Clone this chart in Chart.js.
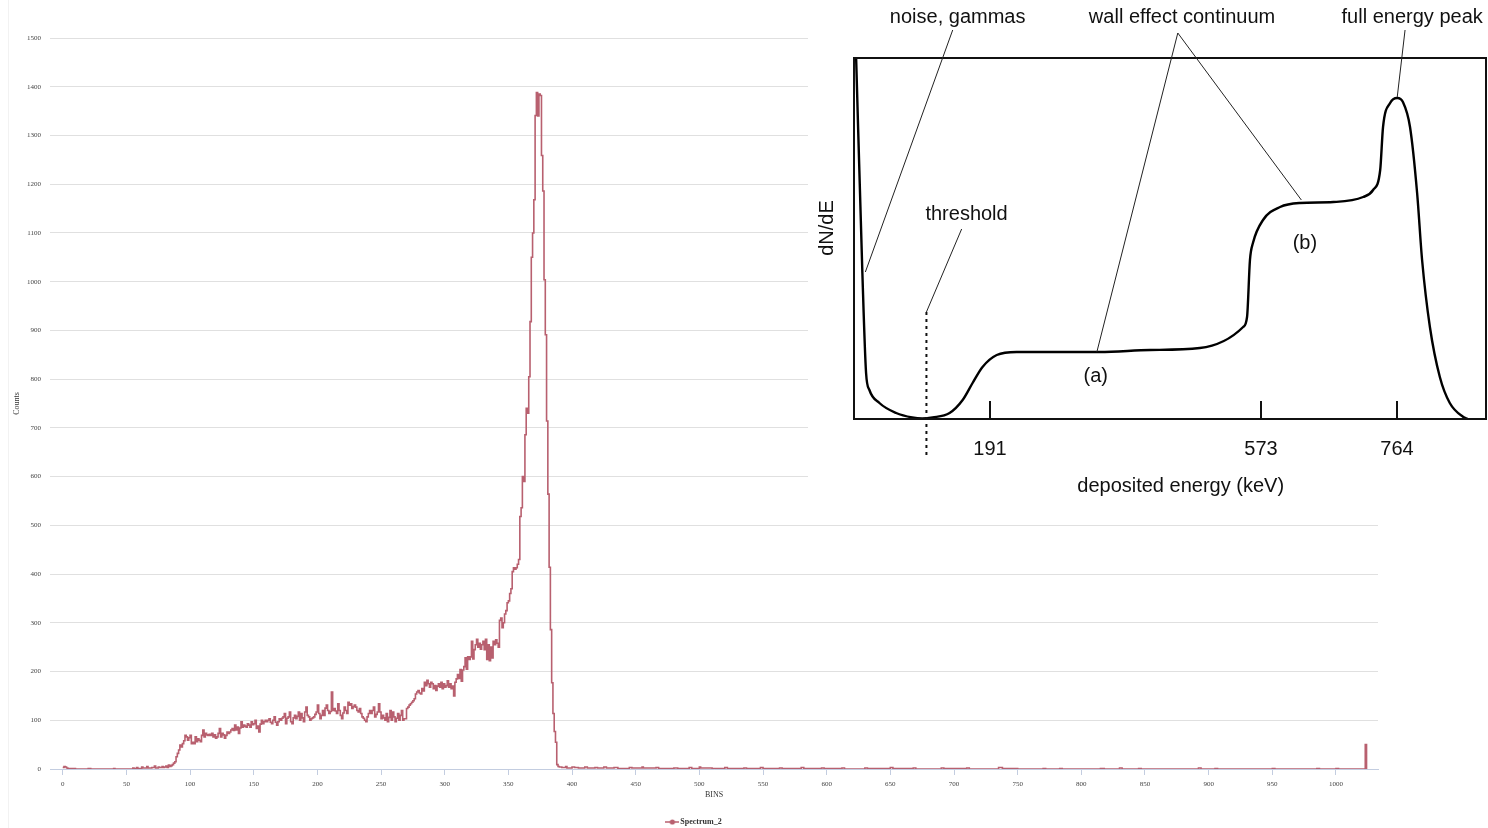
<!DOCTYPE html>
<html>
<head>
<meta charset="utf-8">
<title>Spectrum_2</title>
<script src="https://cdn.jsdelivr.net/npm/chart.js@4.4.1/dist/chart.umd.min.js"></script>
<style>
  body { margin: 0; background: #fff; }
  #wrap { position: relative; width: 1488px; height: 828px; overflow: hidden; }
  #edge { position: absolute; left: 8px; top: 0; width: 1px; height: 828px; background: #f2f2f2; }
  #main { position: absolute; left: 0; top: 0; }
  #inset { position: absolute; left: 808px; top: 0; background: #fff; }
</style>
</head>
<body>
<div id="wrap">
  <div id="edge"></div>
  <canvas id="main" width="1404" height="836"></canvas>
  <canvas id="inset" width="680" height="500"></canvas>
</div>
<script>
// --- Spectrum data (counts per bin) ---
// sparse head: value holds from this bin until the next listed bin
const headBins   = [0, 1, 2, 3, 4, 10, 20, 22, 40, 41, 55, 56, 58, 59, 62, 63, 66, 67, 70, 72, 73, 75, 76, 78, 79];
const headCounts = [3, 5, 4, 2, 1, 0, 1, 0, 1, 0, 2, 1, 3, 1, 4, 2, 5, 2, 3, 6, 2, 4, 3, 5, 3];

// every bin from 80 to 389
const mainStart = 80;
const mainCounts = [
  4, 6, 3, 8, 5, 7, 9, 12, 15, 25,
  32, 39, 49, 45, 52, 58, 69, 66, 59, 64,
  69, 52, 55, 52, 66, 56, 62, 59, 56, 69,
  80, 66, 73, 70, 69, 71, 69, 73, 66, 70,
  63, 66, 73, 83, 66, 73, 70, 63, 69, 76,
  73, 76, 80, 83, 79, 90, 80, 86, 73, 84,
  97, 86, 90, 88, 86, 93, 90, 86, 97, 91,
  93, 100, 83, 88, 76, 92, 100, 93, 97, 100,
  97, 100, 103, 96, 93, 100, 107, 96, 90, 97,
  103, 100, 104, 107, 114, 93, 104, 107, 117, 97,
  93, 105, 110, 103, 108, 117, 100, 114, 105, 97,
  117, 127, 110, 107, 100, 103, 105, 107, 112, 117,
  131, 114, 103, 110, 120, 110, 125, 131, 120, 114,
  118, 158, 120, 124, 119, 114, 134, 120, 110, 103,
  115, 127, 120, 114, 137, 131, 134, 124, 128, 131,
  127, 120, 117, 124, 114, 107, 104, 100, 97, 107,
  114, 120, 114, 120, 127, 107, 112, 117, 134, 117,
  103, 110, 105, 100, 114, 97, 106, 120, 100, 117,
  107, 97, 104, 114, 100, 110, 120, 100, 103, 103,
  124, 127, 131, 134, 137, 140, 144, 154, 158, 161,
  156, 154, 165, 160, 178, 171, 182, 175, 168, 178,
  175, 165, 171, 161, 170, 175, 168, 178, 165, 175,
  168, 171, 181, 168, 175, 165, 170, 150, 178, 185,
  194, 186, 204, 180, 203, 210, 228, 205, 230, 225,
  230, 262, 226, 245, 255, 266, 250, 258, 246, 255,
  262, 245, 266, 225, 255, 222, 250, 228, 262, 255,
  265, 258, 250, 305, 310, 290, 300, 318, 325, 341,
  345, 360, 370, 405, 413, 410, 413, 420, 430, 518,
  536, 600, 590, 686, 740, 730, 805, 918, 1050, 1100,
  1168, 1341, 1388, 1340, 1385, 1382, 1259, 1186, 1004, 891,
  714, 564, 414, 286, 177, 114, 77, 55, 9, 5
];

// sparse tail
const tailBins = [390, 392, 395, 396, 400, 402, 405, 410, 412, 418, 420, 425, 427, 433, 436, 445, 447, 455, 456, 466, 468,
  480, 483, 492, 494, 500, 501, 510, 520, 522, 535, 537, 548, 550, 563, 565, 580, 582, 596, 598, 612, 614, 630, 632,
  650, 652, 668, 670, 690, 692, 710, 712, 735, 738, 750, 770, 772, 783, 785, 815, 818, 830, 832, 845, 847, 892, 894,
  905, 907, 950, 952, 985, 987, 1000, 1002, 1023, 1024];
const tailCounts = [4, 3, 5, 2, 4, 3, 2, 4, 2, 3, 2, 4, 2, 3, 1, 3, 2, 4, 2, 3, 1,
  2, 1, 3, 1, 4, 2, 1, 3, 1, 2, 1, 3, 1, 2, 1, 3, 1, 2, 1, 2, 0, 2, 1,
  3, 1, 2, 0, 2, 1, 2, 0, 3, 1, 0, 1, 0, 1, 0, 1, 0, 2, 0, 1, 0, 2, 0,
  1, 0, 1, 0, 1, 0, 1, 0, 50, 0];

const xTickValues = [0, 50, 100, 150, 200, 250, 300, 350, 400, 450, 500, 550, 600, 650, 700, 750, 800, 850, 900, 950, 1000];

// --- Inset sketch: response vs deposited energy ---
const insetEnergy   = [3, 11.8, 17, 21.7, 35.8, 59.4, 82, 96, 110.6, 134.6, 153, 167, 181, 201, 229, 261.5, 346, 417, 487,
  548, 553.5, 557.6, 561.8, 576, 600, 628, 675, 717, 731, 741, 745, 755, 765, 773, 783, 793, 800, 811, 825, 839, 858, 864];
const insetResponse = [361, 146, 46, 29, 16, 6, 1.5, 0.5, 1.5, 6, 19, 36, 52, 64, 67, 67, 67, 69, 71,
  92, 102, 159, 176, 199, 212, 216, 217, 222, 229, 249, 292, 316, 321, 317, 292, 226, 159, 92, 42, 16, 2, 0];
const insetTicks = [191, 573, 764];

// build step points
const points = [];
headBins.forEach((b, i) => points.push({ x: b, y: headCounts[i] }));
mainCounts.forEach((c, i) => points.push({ x: mainStart + i, y: c }));
tailBins.forEach((b, i) => points.push({ x: b, y: tailCounts[i] }));

const lineColor = '#b8606f';
const serif = "'Liberation Serif', 'DejaVu Serif', serif";
const sans = "'Liberation Sans', Arial, sans-serif";

// legend icon: line with a dot
const icon = document.createElement('canvas');
icon.width = 14; icon.height = 8;
(() => {
  const c = icon.getContext('2d');
  c.strokeStyle = lineColor; c.lineWidth = 1.5;
  c.beginPath(); c.moveTo(0, 4); c.lineTo(14, 4); c.stroke();
  c.fillStyle = lineColor;
  c.beginPath(); c.arc(7, 4, 2.6, 0, Math.PI * 2); c.fill();
})();

new Chart(document.getElementById('main'), {
  type: 'line',
  data: {
    datasets: [{
      label: 'Spectrum_2',
      data: points,
      borderColor: lineColor,
      backgroundColor: lineColor,
      borderWidth: 1.6,
      pointRadius: 0,
      stepped: true,
      fill: false
    }]
  },
  options: {
    responsive: false,
    animation: false,
    layout: { padding: { top: 38, right: 26, left: 12, bottom: 0 } },
    plugins: {
      legend: {
        position: 'bottom',
        labels: {
          usePointStyle: true,
          pointStyle: icon,
          padding: 6,
          color: '#333',
          font: { family: serif, size: 8, weight: 'bold' }
        }
      },
      tooltip: { enabled: false }
    },
    scales: {
      x: {
        type: 'linear',
        min: -10,
        max: 1033,
        afterBuildTicks: s => { s.ticks = xTickValues.map(v => ({ value: v })); },
        afterFit: s => { s.height = 43; },
        ticks: { color: '#444', padding: 5, maxRotation: 0, callback: v => String(v), font: { family: serif, size: 7 } },
        grid: { drawOnChartArea: false, color: '#c3cde0', tickLength: 6 },
        border: { color: '#c3cde0' },
        title: { display: true, text: 'BINS', color: '#333', padding: { top: 0, bottom: 12 }, font: { family: serif, size: 8 } }
      },
      y: {
        min: 0,
        max: 1500,
        afterFit: s => { s.width = 38; },
        ticks: { stepSize: 100, color: '#444', padding: 9, callback: v => String(v), font: { family: serif, size: 7 } },
        grid: { color: '#e0e0e0', drawTicks: false },
        border: { display: false },
        title: { display: true, text: 'Counts', color: '#333', padding: { top: 0, bottom: 0 }, font: { family: serif, size: 8 } }
      }
    }
  }
});

// --- inset annotations, in data units (keV, response) ---
const insetTexts = [
  { text: 'noise, gammas', x: 146, y: 402 },
  { text: 'wall effect continuum', x: 462, y: 402 },
  { text: 'full energy peak', x: 786, y: 402 },
  { text: 'threshold', x: 158.5, y: 205 },
  { text: '(a)', x: 340.5, y: 43 },
  { text: '(b)', x: 635, y: 176 },
  { text: 'deposited energy (keV)', x: 460, y: -67 },
  { text: 'dN/dE', x: -37, y: 191, rotate: true }
];
const insetLeaders = [
  [139, 389, 16, 147],
  [456, 386, 342, 67],
  [456, 386, 630, 219],
  [776, 389, 765, 322],
  [151.6, 190, 102, 107]
];
const thresholdLine = { x: 102, from: 107, to: -36 };

const insetDecor = {
  id: 'insetDecor',
  afterDatasetsDraw(chart) {
    const { ctx, chartArea: a, scales: { x, y } } = chart;
    ctx.save();
    // frame
    ctx.strokeStyle = '#111';
    ctx.lineWidth = 2;
    ctx.strokeRect(a.left, a.top, a.right - a.left, a.bottom - a.top);
    // inward ticks + labels
    ctx.font = '20px ' + sans;
    ctx.fillStyle = '#111';
    ctx.textAlign = 'center';
    ctx.textBaseline = 'middle';
    insetTicks.forEach(t => {
      const px = Math.round(x.getPixelForValue(t));
      ctx.beginPath();
      ctx.moveTo(px, a.bottom);
      ctx.lineTo(px, y.getPixelForValue(18));
      ctx.stroke();
      ctx.fillText(String(t), px, y.getPixelForValue(-30));
    });
    // threshold dotted line
    ctx.setLineDash([3, 4]);
    ctx.beginPath();
    ctx.moveTo(x.getPixelForValue(thresholdLine.x), y.getPixelForValue(thresholdLine.from));
    ctx.lineTo(x.getPixelForValue(thresholdLine.x), y.getPixelForValue(thresholdLine.to));
    ctx.stroke();
    ctx.setLineDash([]);
    // leader lines
    ctx.lineWidth = 1;
    ctx.strokeStyle = '#222';
    insetLeaders.forEach(([x1, y1, x2, y2]) => {
      ctx.beginPath();
      ctx.moveTo(x.getPixelForValue(x1), y.getPixelForValue(y1));
      ctx.lineTo(x.getPixelForValue(x2), y.getPixelForValue(y2));
      ctx.stroke();
    });
    // texts
    insetTexts.forEach(t => {
      const px = x.getPixelForValue(t.x), py = y.getPixelForValue(t.y);
      if (t.rotate) {
        ctx.save();
        ctx.translate(px, py);
        ctx.rotate(-Math.PI / 2);
        ctx.fillText(t.text, 0, 0);
        ctx.restore();
      } else {
        ctx.fillText(t.text, px, py);
      }
    });
    ctx.restore();
  }
};

new Chart(document.getElementById('inset'), {
  type: 'line',
  data: {
    labels: insetEnergy,
    datasets: [{
      data: insetEnergy.map((e, i) => ({ x: e, y: insetResponse[i] })),
      borderColor: '#000',
      borderWidth: 2.4,
      pointRadius: 0,
      cubicInterpolationMode: 'monotone',
      fill: false
    }]
  },
  options: {
    responsive: false,
    animation: false,
    layout: { padding: { left: 46, right: 2, top: 58, bottom: 81 } },
    plugins: { legend: { display: false }, tooltip: { enabled: false } },
    scales: {
      x: { type: 'linear', min: 0, max: 890, display: false },
      y: { min: 0, max: 361, display: false }
    }
  },
  plugins: [insetDecor]
});
</script>
</body>
</html>
